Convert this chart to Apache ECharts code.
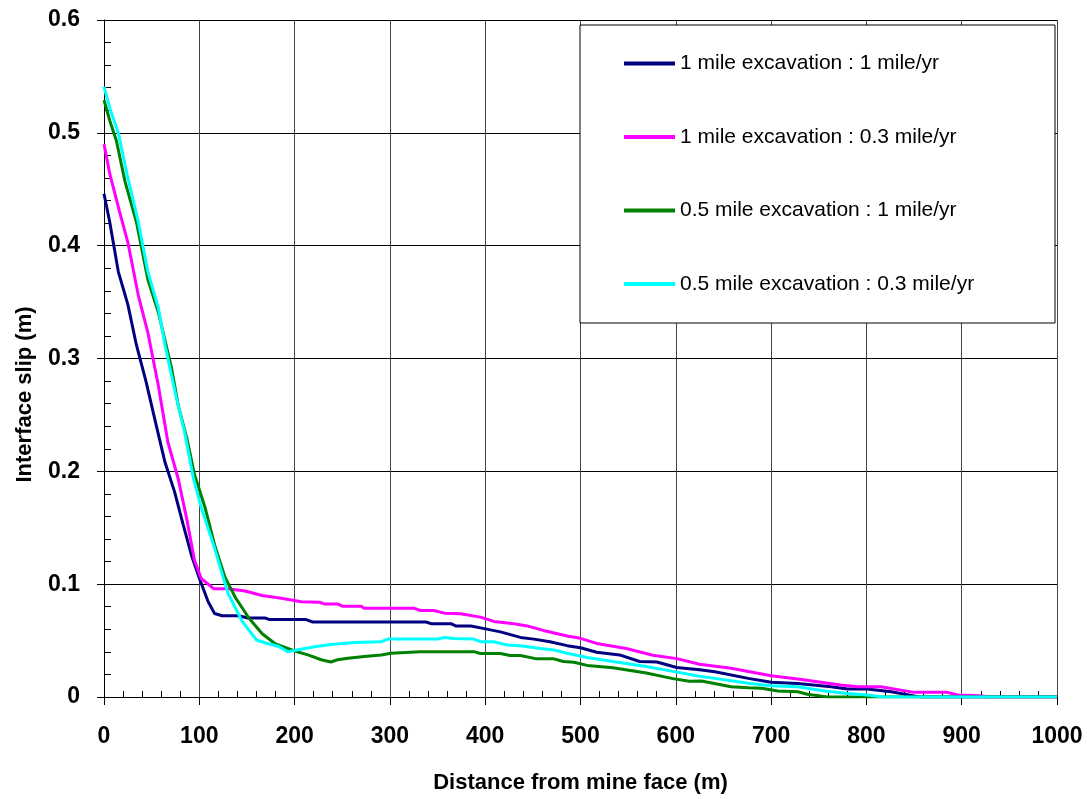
<!DOCTYPE html>
<html>
<head>
<meta charset="utf-8">
<title>Interface slip</title>
<script src="https://cdn.jsdelivr.net/npm/echarts@6/dist/echarts.min.js"></script>
<style>
  html, body { margin: 0; padding: 0; background: #fff; }
</style>
</head>
<body>
<div id="ChartA" style="width: 1087px; height: 799px;"></div>
<script>
// legend names
const seriesNames = [
  '1 mile excavation : 1 mile/yr',
  '1 mile excavation : 0.3 mile/yr',
  '0.5 mile excavation : 1 mile/yr',
  '0.5 mile excavation : 0.3 mile/yr'
]
const seriesColors = ['#000080', '#ff00ff', '#008000', '#00ffff']

// [distance from mine face (m), interface slip (m)]
const slipOneMileFast = [
  [0, 0.446], [6, 0.421], [15, 0.377], [25, 0.348], [34, 0.312], [44, 0.280],
  [55, 0.240], [64, 0.208], [74, 0.182], [83, 0.153], [92, 0.125], [101, 0.103],
  [109, 0.085], [116, 0.074], [124, 0.072], [141, 0.072], [151, 0.070], [169, 0.070],
  [174, 0.0686], [212, 0.0686], [219, 0.0665], [338, 0.0665], [343, 0.065], [364, 0.065],
  [369, 0.063], [385, 0.063], [399, 0.0606], [416, 0.0577], [437, 0.0528], [451, 0.0513],
  [468, 0.049], [486, 0.0455], [500, 0.0437], [517, 0.0397], [541, 0.0373], [562, 0.0315],
  [580, 0.031], [601, 0.0262], [625, 0.0242], [641, 0.0224], [676, 0.0165], [700, 0.013],
  [728, 0.012], [763, 0.0091], [780, 0.007], [801, 0.007], [826, 0.0047], [850, 0.001],
  [857, 0], [1000, 0]
]
const slipOneMileSlow = [
  [0, 0.490], [6, 0.464], [16, 0.431], [25, 0.403], [36, 0.356], [46, 0.323],
  [57, 0.276], [67, 0.226], [78, 0.193], [87, 0.157], [95, 0.121], [102, 0.105],
  [115, 0.096], [130, 0.096], [148, 0.094], [166, 0.090], [186, 0.0875], [207, 0.0845],
  [226, 0.084], [231, 0.0825], [245, 0.0825], [250, 0.0805], [270, 0.0805], [273, 0.0787],
  [325, 0.0787], [332, 0.0767], [346, 0.0767], [357, 0.0743], [374, 0.0738], [395, 0.0708],
  [409, 0.067], [430, 0.065], [444, 0.063], [461, 0.059], [486, 0.054], [500, 0.052],
  [517, 0.0475], [548, 0.043], [576, 0.037], [601, 0.034], [625, 0.029], [658, 0.0254],
  [700, 0.0189], [728, 0.016], [773, 0.0106], [791, 0.0091], [815, 0.0091], [850, 0.0041],
  [885, 0.0041], [896, 0.0018], [920, 0.0012], [927, 0], [1000, 0]
]
const slipHalfMileFast = [
  [0, 0.529], [6, 0.511], [13, 0.493], [22, 0.457], [34, 0.421], [46, 0.370],
  [57, 0.341], [71, 0.291], [78, 0.258], [87, 0.229], [95, 0.197], [106, 0.168],
  [116, 0.135], [127, 0.106], [138, 0.088], [152, 0.070], [166, 0.056], [180, 0.047],
  [200, 0.0408], [214, 0.0373], [228, 0.033], [238, 0.031], [245, 0.033], [256, 0.0344],
  [273, 0.0359], [291, 0.0373], [301, 0.0388], [332, 0.0402], [388, 0.0402], [395, 0.0385],
  [416, 0.0385], [426, 0.0367], [437, 0.0367], [454, 0.0338], [472, 0.0338], [482, 0.0315],
  [493, 0.0308], [507, 0.028], [534, 0.026], [569, 0.0213], [597, 0.0163], [614, 0.014],
  [627, 0.0142], [658, 0.0091], [676, 0.0083], [690, 0.0077], [707, 0.0053], [728, 0.0047],
  [738, 0.0024], [759, 0], [1000, 0]
]
const slipHalfMileSlow = [
  [0, 0.541], [6, 0.522], [15, 0.500], [25, 0.460], [36, 0.421], [46, 0.377],
  [57, 0.345], [64, 0.312], [76, 0.265], [85, 0.233], [94, 0.193], [102, 0.168],
  [116, 0.132], [130, 0.092], [145, 0.067], [160, 0.0505], [173, 0.047], [183, 0.045],
  [193, 0.040], [202, 0.0417], [221, 0.0446], [238, 0.0466], [263, 0.0484], [291, 0.049],
  [298, 0.0513], [350, 0.0513], [357, 0.0528], [367, 0.0519], [388, 0.0513], [395, 0.049],
  [409, 0.049], [423, 0.046], [437, 0.0455], [458, 0.043], [472, 0.0417], [486, 0.0388],
  [507, 0.035], [534, 0.0315], [569, 0.0271], [597, 0.0227], [625, 0.0184], [641, 0.0165],
  [676, 0.0121], [700, 0.010], [728, 0.0091], [756, 0.0053], [780, 0.0032], [801, 0.0018],
  [815, 0.0003], [820, 0], [1000, 0]
]
const seriesData = [slipOneMileFast, slipOneMileSlow, slipHalfMileFast, slipHalfMileSlow]

const xTicks = { min: 0, max: 1000, interval: 100 }
const yTicks = { min: 0, max: 0.6, interval: 0.1 }

const ChartA = echarts.init(document.getElementById('ChartA'), null, { renderer: 'canvas' })

const fontName = 'Liberation Sans, Arial, sans-serif'
const tickFont = { color: '#000', fontFamily: fontName, fontWeight: 'bold', fontSize: 23 }
const nameFont = { color: '#000', fontFamily: fontName, fontWeight: 'bold', fontSize: 22 }

ChartA.setOption({
  animation: false,
  backgroundColor: '#fff',
  grid: { left: 104, right: 30, top: 20, bottom: 101 },
  // white legend box drawn over the grid lines
  graphic: [{
    type: 'rect',
    z: 3,
    shape: { x: 580, y: 25, width: 475, height: 298 },
    style: { fill: '#fff', stroke: '#000', lineWidth: 1 }
  }],
  legend: {
    orient: 'vertical',
    left: 624,
    top: 53,
    z: 5,
    padding: 0,
    icon: 'rect',
    itemWidth: 51,
    itemHeight: 4,
    itemGap: 52.5,
    data: seriesNames,
    textStyle: {
      color: '#000',
      fontFamily: fontName,
      fontSize: 21,
      lineHeight: 21
    }
  },
  xAxis: {
    type: 'value',
    min: xTicks.min,
    max: xTicks.max,
    interval: xTicks.interval,
    name: 'Distance from mine face (m)',
    nameLocation: 'middle',
    nameGap: 75,
    nameTextStyle: nameFont,
    axisLine: { lineStyle: { color: '#000', width: 1 } },
    axisTick: { show: true, length: 8, lineStyle: { color: '#000' } },
    minorTick: { show: true, splitNumber: 5, length: -6, lineStyle: { color: '#000' } },
    axisLabel: Object.assign({ margin: 28, formatter: v => String(v) }, tickFont),
    splitLine: { show: true, lineStyle: { color: '#444', width: 1 } }
  },
  yAxis: {
    type: 'value',
    min: yTicks.min,
    max: yTicks.max,
    interval: yTicks.interval,
    name: 'Interface slip (m)',
    nameLocation: 'middle',
    nameGap: 68,
    // push the rotated name a bit below the middle, like the original
    nameTextStyle: Object.assign({ padding: [0, 72, 0, 0] }, nameFont),
    axisLine: { show: true, lineStyle: { color: '#000', width: 1 } },
    axisTick: { show: true, length: 7, lineStyle: { color: '#000' } },
    minorTick: { show: true, splitNumber: 5, length: -7, lineStyle: { color: '#000' } },
    axisLabel: Object.assign({ margin: 24, formatter: v => v === 0 ? '0' : v.toFixed(1) }, tickFont),
    splitLine: { show: true, lineStyle: { color: '#000', width: 1 } }
  },
  series: seriesNames.map((name, i) => ({
    name: name,
    type: 'line',
    data: seriesData[i],
    showSymbol: false,
    symbol: 'none',
    color: seriesColors[i],
    lineStyle: { width: 3, color: seriesColors[i] }
  }))
})
</script>
</body>
</html>
